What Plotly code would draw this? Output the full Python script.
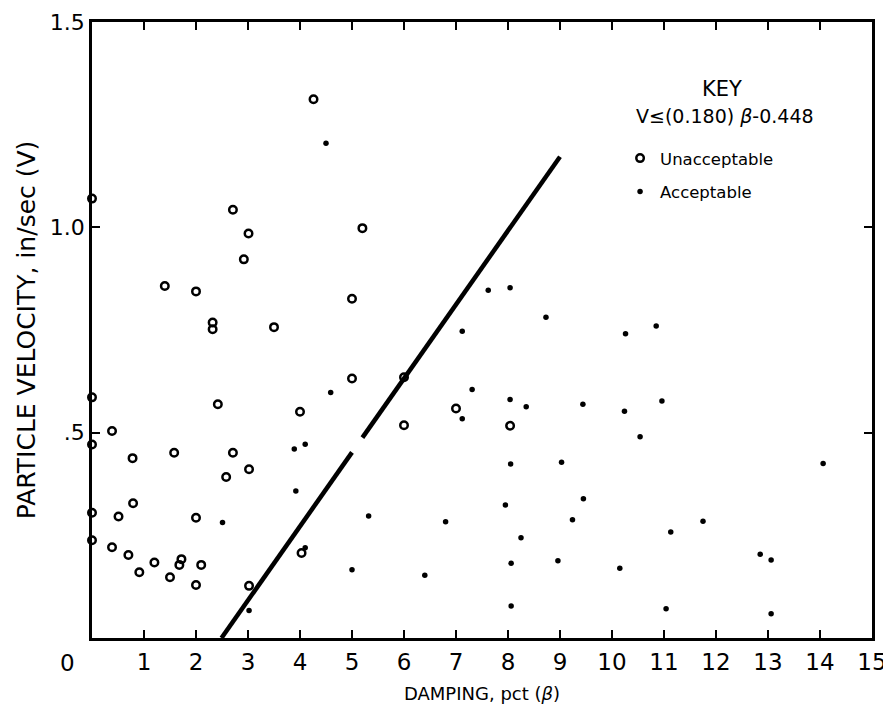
import plotly.graph_objs as go

# Unacceptable blasts (open circles)
unacc_damping = [0, 0, 0, 0, 0, 0.385, 0.385, 0.51, 0.70, 0.78, 0.79, 0.91, 1.2, 1.40,
                 1.5, 1.58, 1.68, 1.72, 2.0, 2.0, 2.10, 2.0, 2.32, 2.32, 2.42, 2.58,
                 2.71, 2.71, 2.92, 3.01, 3.02, 3.02, 3.5, 4.0, 4.03, 4.26, 5.0, 5.0,
                 5.2, 6.0, 6.0, 7.0, 8.04]
unacc_velocity = [1.07, 0.586, 0.471, 0.305, 0.238, 0.504, 0.221, 0.296, 0.202, 0.438,
                  0.328, 0.160, 0.184, 0.857, 0.148, 0.451, 0.178, 0.192, 0.844, 0.293,
                  0.178, 0.129, 0.768, 0.752, 0.569, 0.392, 1.043, 0.451, 0.922, 0.985,
                  0.411, 0.127, 0.757, 0.551, 0.207, 1.312, 0.826, 0.632, 0.998, 0.635,
                  0.518, 0.559, 0.517]

# Acceptable blasts (dots)
acc_damping = [2.51, 3.02, 3.89, 3.92, 4.10, 4.10, 4.5, 4.59, 5.0, 5.32, 6.4, 6.8, 7.12,
               7.12, 7.31, 7.62, 7.95, 8.04, 8.04, 8.05, 8.06, 8.06, 8.25, 8.35, 8.73,
               8.96, 9.03, 9.24, 9.44, 9.45, 10.15, 10.24, 10.26, 10.54, 10.85, 10.96,
               11.04, 11.13, 11.75, 12.85, 13.06, 13.06, 14.06]
acc_velocity = [0.281, 0.067, 0.460, 0.358, 0.472, 0.22, 1.205, 0.598, 0.166, 0.297,
                0.153, 0.283, 0.747, 0.534, 0.605, 0.847, 0.324, 0.853, 0.581, 0.424,
                0.182, 0.078, 0.244, 0.563, 0.781, 0.188, 0.428, 0.288, 0.569, 0.339,
                0.170, 0.552, 0.741, 0.490, 0.760, 0.577, 0.071, 0.258, 0.284, 0.204,
                0.190, 0.059, 0.425]

# criterion line V = 0.180*beta - 0.448 (gap in the original print near beta=5)
line_damping = [2.49, 5.0, None, 5.2, 9.0]
line_velocity = [0.0, 0.452, None, 0.488, 1.172]

x_ticks = list(range(1, 16))
x_labels = [str(v) for v in x_ticks]
y_ticks = [0.5, 1.0, 1.5]
y_labels = ['.5', '1.0', '1.5']

font = 'DejaVu Sans'

fig = go.Figure()

fig.add_trace(go.Scatter(x=line_damping, y=line_velocity, mode='lines',
                         line=dict(color='black', width=4.5), showlegend=False,
                         hoverinfo='skip'))

fig.add_trace(go.Scatter(x=unacc_damping, y=unacc_velocity, mode='markers',
                         name='Unacceptable', legendgroup='u', cliponaxis=False,
                         marker=dict(symbol='circle-open', size=7.5, color='black',
                                     line=dict(width=2.5, color='black'))))

fig.add_trace(go.Scatter(x=acc_damping, y=acc_velocity, mode='markers',
                         name='Acceptable', legendgroup='a', cliponaxis=False,
                         marker=dict(symbol='circle', size=5.5, color='black')))

# the page body has an 8px margin, so the margins are shifted to keep the plot box in place
fig.update_layout(
    width=891, height=708,
    margin=dict(l=84, r=27, t=14, b=78),
    plot_bgcolor='white', paper_bgcolor='white',
    font=dict(family=font, color='black', size=18),
    legend=dict(x=0.677, y=0.807, xanchor='left', yanchor='top',
                bgcolor='rgba(0,0,0,0)', font=dict(size=16.5), tracegroupgap=9),
    annotations=[
        dict(text='0', xref='paper', yref='paper', x=-0.032, y=0,
             xanchor='center', yanchor='top', yshift=-10, showarrow=False,
             font=dict(size=23)),
        dict(text='KEY', xref='paper', yref='paper', x=0.808, y=0.892,
             xanchor='center', yanchor='middle', showarrow=False, font=dict(size=21)),
        dict(text='V≤(0.180) <i>β</i>-0.448', xref='paper', yref='paper', x=0.812, y=0.847,
             xanchor='center', yanchor='middle', showarrow=False, font=dict(size=19)),
    ],
)

fig.update_xaxes(range=[0, 15], tickvals=x_ticks, ticktext=x_labels,
                 ticks='inside', ticklen=8, tickwidth=2, tickcolor='black',
                 showline=True, linewidth=2.5, linecolor='black', mirror='ticks',
                 showgrid=False, zeroline=False, tickfont=dict(size=23),
                 ticklabelstandoff=2, automargin=False, ticklabeloverflow='allow',
                 title=dict(text='DAMPING, pct (<i>β</i>)', font=dict(size=18), standoff=14))

fig.update_yaxes(range=[0, 1.5], tickvals=y_ticks, ticktext=y_labels,
                 ticks='inside', ticklen=8, tickwidth=2, tickcolor='black',
                 showline=True, linewidth=2.5, linecolor='black', mirror='ticks',
                 showgrid=False, zeroline=False, tickfont=dict(size=22),
                 automargin=False, ticklabeloverflow='allow',
                 title=dict(text='PARTICLE VELOCITY, in/sec (V)', font=dict(size=25), standoff=8))

fig.write_html('out.html')
